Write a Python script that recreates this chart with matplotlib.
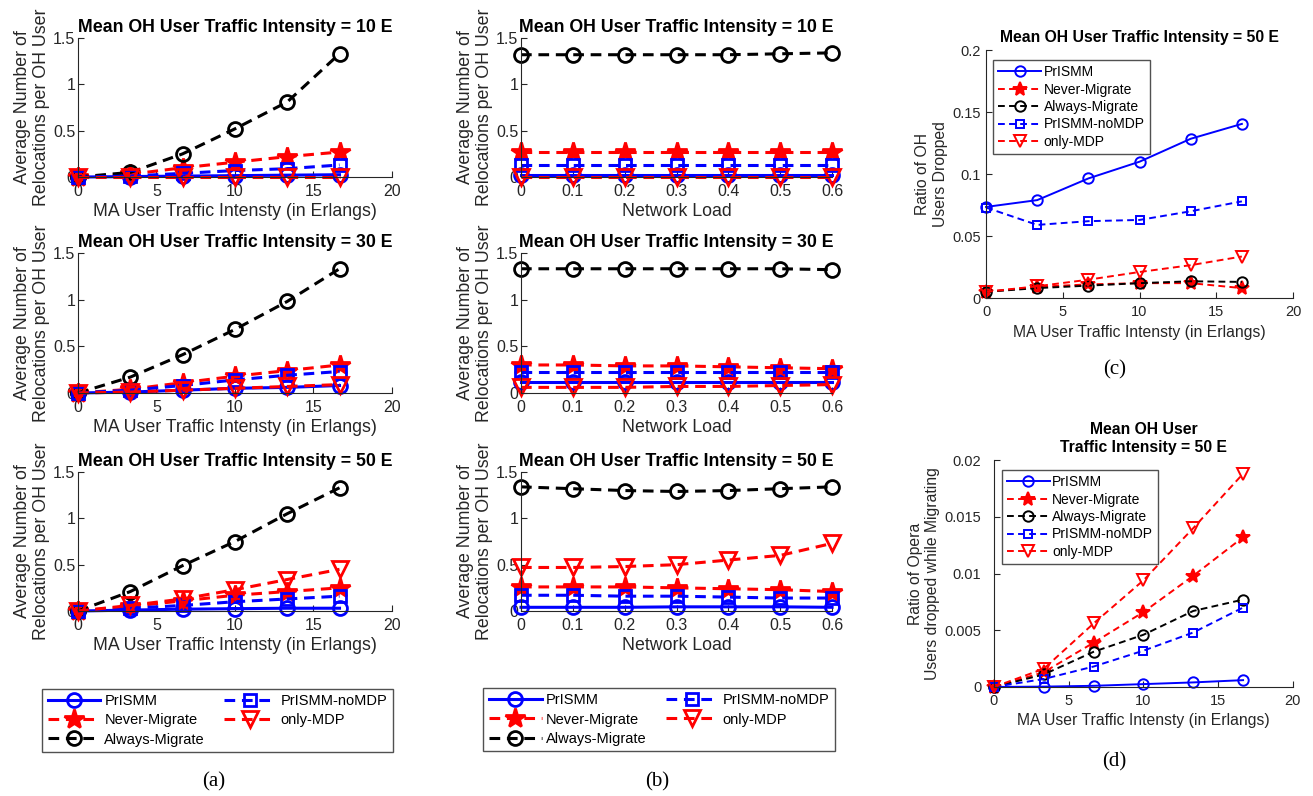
import matplotlib
matplotlib.use('Agg')
import matplotlib.pyplot as plt
from matplotlib.ticker import FuncFormatter

plt.rcParams['font.family'] = ['Liberation Sans', 'DejaVu Sans']

# x values
ma_load = [0, 3.333, 6.667, 10, 13.333, 16.667]
net_load = [0, 0.1, 0.2, 0.3, 0.4, 0.5, 0.6]

names = ['PrISMM', 'Never-Migrate', 'Always-Migrate', 'PrISMM-noMDP', 'only-MDP']

# (a) relocations vs MA traffic, OH = 10 / 30 / 50 E
a10_prismm = [0, 0.005, 0.01, 0.015, 0.02, 0.025]
a10_never = [0, 0.03, 0.10, 0.16, 0.22, 0.27]
a10_always = [0, 0.05, 0.25, 0.52, 0.81, 1.33]
a10_nomdp = [0, 0.01, 0.04, 0.07, 0.09, 0.13]
a10_onlymdp = [0, 0.0, 0.0, 0.0, 0.0, 0.0]

a30_prismm = [0, 0.01, 0.03, 0.05, 0.06, 0.08]
a30_never = [0, 0.04, 0.11, 0.18, 0.24, 0.30]
a30_always = [0, 0.17, 0.41, 0.68, 0.98, 1.33]
a30_nomdp = [0, 0.03, 0.08, 0.14, 0.19, 0.23]
a30_onlymdp = [0, 0.01, 0.03, 0.05, 0.07, 0.09]

a50_prismm = [0, 0.01, 0.02, 0.025, 0.03, 0.03]
a50_never = [0, 0.05, 0.11, 0.17, 0.21, 0.25]
a50_always = [0, 0.21, 0.49, 0.75, 1.05, 1.33]
a50_nomdp = [0, 0.03, 0.06, 0.10, 0.13, 0.16]
a50_onlymdp = [0, 0.06, 0.13, 0.23, 0.34, 0.45]

# (b) relocations vs network load, OH = 10 / 30 / 50 E
b10_prismm = [0.02, 0.02, 0.02, 0.02, 0.02, 0.02, 0.02]
b10_never = [0.27, 0.27, 0.27, 0.27, 0.27, 0.27, 0.27]
b10_always = [1.32, 1.32, 1.32, 1.32, 1.32, 1.33, 1.34]
b10_nomdp = [0.13, 0.13, 0.13, 0.13, 0.13, 0.13, 0.13]
b10_onlymdp = [0.0, 0.0, 0.0, 0.0, 0.0, 0.0, 0.0]

b30_prismm = [0.12, 0.12, 0.12, 0.12, 0.12, 0.12, 0.12]
b30_never = [0.30, 0.30, 0.29, 0.29, 0.28, 0.27, 0.26]
b30_always = [1.33, 1.33, 1.33, 1.33, 1.33, 1.33, 1.32]
b30_nomdp = [0.23, 0.23, 0.23, 0.23, 0.23, 0.23, 0.23]
b30_onlymdp = [0.06, 0.06, 0.06, 0.07, 0.07, 0.08, 0.09]

b50_prismm = [0.04, 0.04, 0.04, 0.045, 0.045, 0.045, 0.04]
b50_never = [0.26, 0.26, 0.26, 0.25, 0.24, 0.23, 0.21]
b50_always = [1.34, 1.32, 1.30, 1.29, 1.30, 1.32, 1.34]
b50_nomdp = [0.17, 0.17, 0.16, 0.16, 0.15, 0.14, 0.14]
b50_onlymdp = [0.47, 0.47, 0.48, 0.50, 0.55, 0.60, 0.73]

# (c) ratio of OH users dropped
c_prismm = [0.0735, 0.079, 0.0965, 0.110, 0.1285, 0.1405]
c_never = [0.005, 0.009, 0.011, 0.012, 0.012, 0.008]
c_always = [0.005, 0.008, 0.010, 0.012, 0.0135, 0.013]
c_nomdp = [0.073, 0.059, 0.062, 0.063, 0.070, 0.078]
c_onlymdp = [0.005, 0.0095, 0.0148, 0.021, 0.0265, 0.0335]

# (d) ratio of operating users dropped while migrating
d_prismm = [0, 0.00003, 0.0001, 0.00025, 0.0004, 0.0006]
d_never = [0, 0.0013, 0.0039, 0.0066, 0.0098, 0.0132]
d_always = [0, 0.0011, 0.0031, 0.0046, 0.0067, 0.0077]
d_nomdp = [0, 0.0007, 0.0018, 0.0032, 0.0048, 0.0070]
d_onlymdp = [0, 0.0016, 0.0056, 0.0094, 0.0140, 0.0188]

dash = (0, (3.5, 2.2))
styles = {
    'PrISMM': dict(color='#0000ff', ls='-', marker='o', mfc='none'),
    'Never-Migrate': dict(color='#ff0000', ls=dash, marker='*', mfc='#ff0000'),
    'Always-Migrate': dict(color='black', ls=dash, marker='o', mfc='none'),
    'PrISMM-noMDP': dict(color='#0000ff', ls=dash, marker='s', mfc='none'),
    'only-MDP': dict(color='#ff0000', ls=dash, marker='v', mfc='none'),
}
big_ms = {'PrISMM': 10, 'Never-Migrate': 15, 'Always-Migrate': 10, 'PrISMM-noMDP': 9, 'only-MDP': 11}
small_ms = {'PrISMM': 7.5, 'Never-Migrate': 10, 'Always-Migrate': 7.5, 'PrISMM-noMDP': 6, 'only-MDP': 8}

axcol = '#262626'
fmt = FuncFormatter(lambda v, p: '%g' % round(v, 6))


def style_axes(ax, size, ypad=2):
    for s in ['top', 'right']:
        ax.spines[s].set_visible(False)
    for s in ['left', 'bottom']:
        ax.spines[s].set_color(axcol)
        ax.spines[s].set_linewidth(0.8)
    ax.tick_params(direction='in', length=4, colors=axcol, labelsize=size)
    ax.tick_params(axis='x', pad=5)
    ax.tick_params(axis='y', pad=ypad)
    ax.yaxis.set_major_formatter(fmt)
    ax.xaxis.set_major_formatter(fmt)


def draw(ax, x, series, big):
    lines = []
    for name, y in zip(names, series):
        st = styles[name]
        ms = big_ms[name] if big else small_ms[name]
        lw = 2.2 if big else 1.4
        mew = 2.0 if big else 1.4
        ln, = ax.plot(x, y, color=st['color'], ls=st['ls'], marker=st['marker'],
                      mfc=st['mfc'], mec=st['color'], ms=ms, lw=lw, mew=mew,
                      clip_on=False)
        lines.append(ln)
    return lines


fig = plt.figure(figsize=(13.13, 7.96), dpi=100)

rows_y = [(0.7776, 0.1746), (0.5063, 0.1760), (0.2324, 0.1746)]
titles = ['Mean OH User Traffic Intensity = 10 E',
          'Mean OH User Traffic Intensity = 30 E',
          'Mean OH User Traffic Intensity = 50 E']
a_data = [
    [a10_prismm, a10_never, a10_always, a10_nomdp, a10_onlymdp],
    [a30_prismm, a30_never, a30_always, a30_nomdp, a30_onlymdp],
    [a50_prismm, a50_never, a50_always, a50_nomdp, a50_onlymdp],
]
b_data = [
    [b10_prismm, b10_never, b10_always, b10_nomdp, b10_onlymdp],
    [b30_prismm, b30_never, b30_always, b30_nomdp, b30_onlymdp],
    [b50_prismm, b50_never, b50_always, b50_nomdp, b50_onlymdp],
]
ylab = 'Average Number of\nRelocations per OH User'

for i, (y0, h) in enumerate(rows_y):
    ax = fig.add_axes([0.0594, y0, 0.239, h])
    a_lines = draw(ax, ma_load, a_data[i], True)
    ax.set_xlim(0, 20)
    ax.set_ylim(0, 1.5)
    ax.set_xticks([0, 5, 10, 15, 20])
    ax.set_yticks([0, 0.5, 1, 1.5])
    style_axes(ax, 11.5)
    ax.set_title(titles[i], fontsize=12.8, fontweight='bold', pad=4)
    ax.set_xlabel('MA User Traffic Intensty (in Erlangs)', fontsize=12.8, color=axcol, labelpad=3)
    ax.set_ylabel(ylab, fontsize=12.8, color=axcol, labelpad=2)

    bx = fig.add_axes([0.3968, y0, 0.2369, h])
    b_lines = draw(bx, net_load, b_data[i], True)
    bx.set_xlim(0, 0.6)
    bx.set_ylim(0, 1.5)
    bx.set_xticks(net_load)
    bx.set_yticks([0, 0.5, 1, 1.5])
    style_axes(bx, 11.5)
    bx.set_title(titles[i], fontsize=12.8, fontweight='bold', pad=4)
    bx.set_xlabel('Network Load', fontsize=12.8, color=axcol, labelpad=3)
    bx.set_ylabel(ylab, fontsize=12.8, color=axcol, labelpad=2)

leg_kw = dict(ncol=2, loc='center', fontsize=10.5, frameon=True, fancybox=False,
              edgecolor=axcol, handlelength=3.6, columnspacing=1.3,
              labelspacing=0.35, borderpad=0.4, handletextpad=0.3)
lg = fig.legend(a_lines, names, bbox_to_anchor=(0.1657, 0.0949), **leg_kw)
lg.get_frame().set_linewidth(1.0)
lg = fig.legend(b_lines, names, bbox_to_anchor=(0.502, 0.0961), **leg_kw)
lg.get_frame().set_linewidth(1.0)

# (c)
cx = fig.add_axes([0.751, 0.6256, 0.2338, 0.3114])
c_lines = draw(cx, ma_load, [c_prismm, c_never, c_always, c_nomdp, c_onlymdp], False)
cx.set_xlim(0, 20)
cx.set_ylim(0, 0.2)
cx.set_xticks([0, 5, 10, 15, 20])
cx.set_yticks([0, 0.05, 0.1, 0.15, 0.2])
style_axes(cx, 10.5, ypad=4)
cx.set_title('Mean OH User Traffic Intensity = 50 E', fontsize=11.3, fontweight='bold', pad=6)
cx.set_xlabel('MA User Traffic Intensty (in Erlangs)', fontsize=11.3, color=axcol, labelpad=4)
cx.set_ylabel('Ratio of OH\nUsers Dropped', fontsize=11.3, color=axcol, labelpad=3)
lg = fig.legend(c_lines, names, loc='center', bbox_to_anchor=(0.816, 0.8656), fontsize=10,
                fancybox=False, edgecolor=axcol, handlelength=3.1, labelspacing=0.25,
                borderpad=0.35, handletextpad=0.2)
lg.get_frame().set_linewidth(1.0)

# (d)
dx = fig.add_axes([0.757, 0.137, 0.2277, 0.285])
d_lines = draw(dx, ma_load, [d_prismm, d_never, d_always, d_nomdp, d_onlymdp], False)
dx.set_xlim(0, 20)
dx.set_ylim(0, 0.02)
dx.set_xticks([0, 5, 10, 15, 20])
dx.set_yticks([0, 0.005, 0.01, 0.015, 0.02])
style_axes(dx, 10.5, ypad=9)
dx.set_title('Mean OH User\nTraffic Intensity = 50 E', fontsize=11.3, fontweight='bold', pad=6)
dx.set_xlabel('MA User Traffic Intensty (in Erlangs)', fontsize=11.3, color=axcol, labelpad=4)
dx.set_ylabel('Ratio of Opera\nUsers dropped while Migrating', fontsize=11.3, color=axcol, labelpad=3)
lg = fig.legend(d_lines, names, loc='center', bbox_to_anchor=(0.8225, 0.3505), fontsize=10,
                fancybox=False, edgecolor=axcol, handlelength=3.1, labelspacing=0.25,
                borderpad=0.35, handletextpad=0.2)
lg.get_frame().set_linewidth(1.0)

# captions
for cap, xf, yf in [('(a)', 0.1625, 0.0175), ('(b)', 0.5004, 0.0175),
                    ('(c)', 0.849, 0.535), ('(d)', 0.849, 0.0425)]:
    fig.text(xf, yf, cap, ha='center', va='center', fontsize=15,
             family=['Liberation Serif', 'DejaVu Serif'])

fig.savefig('out.png', dpi=100)
